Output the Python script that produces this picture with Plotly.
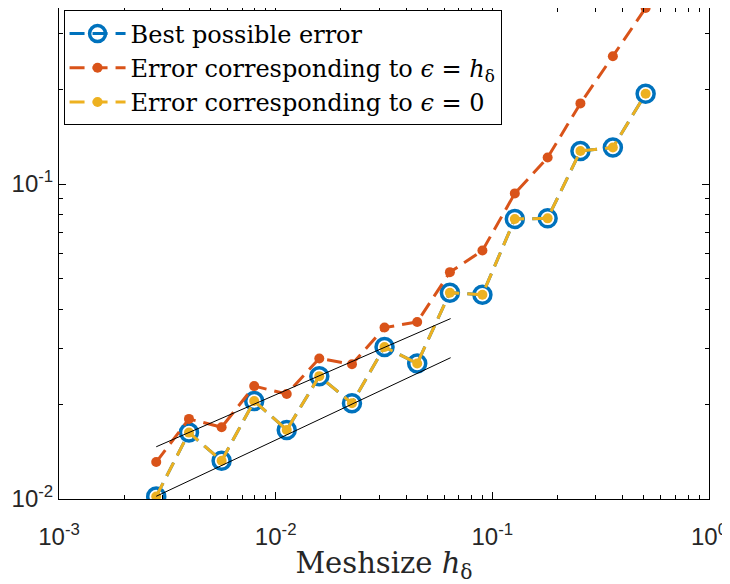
import plotly.graph_objects as go

# mesh sizes h_delta
meshsize = [0.00281, 0.00398, 0.00563, 0.00796, 0.01125, 0.0159, 0.0225, 0.0318,
            0.045, 0.0637, 0.09, 0.127, 0.18, 0.255, 0.36, 0.51]

# errors
err_best = [0.01019, 0.01625, 0.01322, 0.02047, 0.01657, 0.02455, 0.02013, 0.0304,
            0.02694, 0.0452, 0.04454, 0.07749, 0.07783, 0.1274, 0.1306, 0.1935]
err_eps_h = [0.0131, 0.01796, 0.0169, 0.02283, 0.02154, 0.02794, 0.0268, 0.03502,
             0.03648, 0.05252, 0.06151, 0.0934, 0.1214, 0.1804, 0.2547, 0.3623]
err_eps0 = [0.01019, 0.01625, 0.01322, 0.02047, 0.01657, 0.02455, 0.02013, 0.0304,
            0.02694, 0.0452, 0.04454, 0.07749, 0.07783, 0.1274, 0.1306, 0.1935]

# reference slope lines (end points)
ref_x = [0.00281, 0.0642]
ref_upper = [0.01465, 0.0374]
ref_lower = [0.0102, 0.0281]

x_ticks = [1e-3, 1e-2, 1e-1, 1e0]
x_ticktext = ['10<sup>-3</sup>', '10<sup>-2</sup>', '10<sup>-1</sup>', '10<sup>0</sup>']
y_ticks = [1e-2, 1e-1]
y_ticktext = ['10<sup>-2</sup>', '10<sup>-1</sup>']

blue = '#0072BD'
orange = '#D95319'
yellow = '#EDB120'

fig = go.Figure()

fig.add_trace(go.Scatter(
    x=meshsize, y=err_best, mode='lines+markers', name='Best possible error',
    line=dict(color=blue, width=3, dash='15px,8px'),
    marker=dict(symbol='circle-open', size=17, color=blue, line=dict(width=3.5, color=blue))))

fig.add_trace(go.Scatter(
    x=meshsize, y=err_eps_h, mode='lines+markers',
    name='Error corresponding to <i>ϵ</i> = <i>h</i><sub>δ</sub>',
    line=dict(color=orange, width=3, dash='15px,8px'),
    marker=dict(symbol='circle', size=10, color=orange)))

fig.add_trace(go.Scatter(
    x=meshsize, y=err_eps0, mode='lines+markers',
    name='Error corresponding to <i>ϵ</i> = 0',
    line=dict(color=yellow, width=3, dash='15px,8px'),
    marker=dict(symbol='circle', size=10, color=yellow)))

for ref_y in (ref_upper, ref_lower):
    fig.add_trace(go.Scatter(x=ref_x, y=ref_y, mode='lines', showlegend=False,
                             line=dict(color='black', width=1), hoverinfo='skip'))

# minor tick positions
x_minor = [m * 10.0 ** e for e in (-3, -2, -1) for m in range(2, 10)]
y_minor = [m * 10.0 ** e for e in (-2, -1) for m in range(2, 10) if m * 10.0 ** e < 0.37]

axis_common = dict(
    type='log', showgrid=False, zeroline=False, showline=True, linecolor='black',
    linewidth=1, mirror='ticks', ticks='inside', ticklen=7, tickcolor='black',
    automargin=False,
    tickfont=dict(family='Liberation Sans, Arial', size=24, color='#262626'),
)

fig.update_xaxes(
    range=[-3, 0], tickmode='array', tickvals=x_ticks, ticktext=x_ticktext,
    ticklabelstandoff=16,
    minor=dict(tickmode='array', tickvals=x_minor, ticks='inside', ticklen=4,
               tickcolor='black', showgrid=False),
    title=dict(text='Meshsize <i>h</i><sub>δ</sub>',
               font=dict(family='DejaVu Serif', size=29, color='#262626'),
               standoff=4),
    **axis_common)

fig.update_yaxes(
    range=[-2, -0.4409], tickmode='array', tickvals=y_ticks, ticktext=y_ticktext,
    minor=dict(tickmode='array', tickvals=y_minor, ticks='inside', ticklen=4,
               tickcolor='black', showgrid=False),
    **axis_common)

# page body has an 8px margin, so the figure is sized to fit inside the window
fig.update_layout(
    width=722, height=576,
    margin=dict(l=51, r=21, t=0, b=85),
    paper_bgcolor='white', plot_bgcolor='white',
    showlegend=True,
    legend=dict(x=0.007, y=0.995, xanchor='left', yanchor='top',
                bgcolor='white', bordercolor='black', borderwidth=1,
                font=dict(family='DejaVu Serif', size=24, color='black'),
                itemwidth=56, tracegroupgap=0),
)

fig.write_html('out.html')
